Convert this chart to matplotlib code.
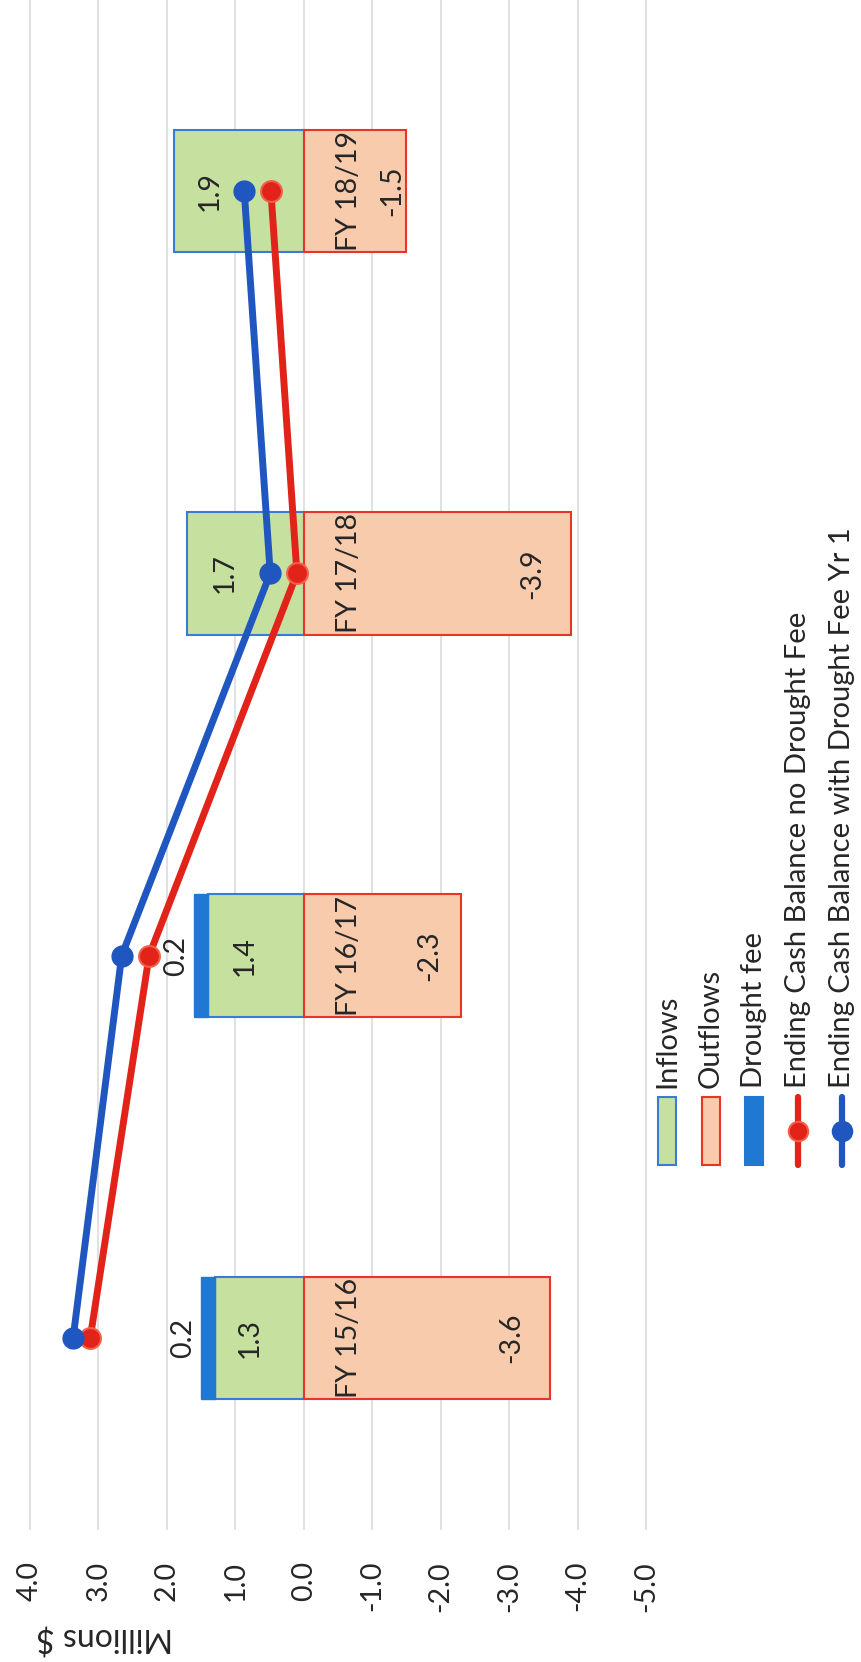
import matplotlib
matplotlib.use("Agg")
import matplotlib.pyplot as plt
from matplotlib.patches import Rectangle
from matplotlib.lines import Line2D

plt.rcParams['font.family'] = ['Lato', 'DejaVu Sans']

# ---- data ----
categories = ["FY 15/16", "FY 16/17", "FY 17/18", "FY 18/19"]
inflows = [1.3, 1.4, 1.7, 1.9]
drought_fee = [0.2, 0.2, 0.0, 0.0]
outflows = [-3.6, -2.3, -3.9, -1.5]
cash_no_fee = [3.12, 2.26, 0.10, 0.48]
cash_with_fee = [3.37, 2.66, 0.49, 0.87]
value_ticks = [4, 3, 2, 1, 0, -1, -2, -3, -4, -5]
legend_labels = ["Inflows", "Outflows", "Drought fee",
                 "Ending Cash Balance no Drought Fee",
                 "Ending Cash Balance with Drought Fee Yr 1"]

# ---- layout (label placements along the value axis) ----
inflow_label_x = [0.79, 0.87, 1.15, 1.37]
outflow_label_x = [-3.03, -1.83, -3.34, -1.29]
fy_label_x = -0.66

# ---- colours ----
GREEN = "#C6E0A0"
GREEN_EDGE = "#3A7BD5"
PEACH = "#F8CBAD"
PEACH_EDGE = "#E8352A"
FEE_BLUE = "#1F78D2"
LINE_RED = "#E2231A"
LINE_BLUE = "#1F56C0"
GRID = "#DEDEDE"
TXT = "#262626"
FS = 20.5

W_PX, H_PX = 861, 1662
fig = plt.figure(figsize=(W_PX / 100, H_PX / 100), dpi=100)

left_px, right_px, top_px, bottom_px = 30, 646, 0, 1529
ax = fig.add_axes([left_px / W_PX, 1 - bottom_px / H_PX,
                   (right_px - left_px) / W_PX, (bottom_px - top_px) / H_PX])
ax.set_xlim(4, -5)
ax.set_ylim(-0.5, 3.5)
for s in ax.spines.values():
    s.set_visible(False)

ax.set_xticks(value_ticks)
ax.set_xticklabels([f"{v:.1f}" for v in value_ticks], rotation=90,
                   va="top", ha="center", fontsize=FS, color=TXT)
ax.tick_params(axis="x", length=0, pad=23)
ax.set_yticks([])
for v in value_ticks:
    ax.axvline(v, color=GRID, lw=1.3, zorder=0, clip_on=False)

pos = list(range(len(categories)))
bh = 0.32
ax.barh(pos, inflows, height=bh, color=GREEN, edgecolor=GREEN_EDGE,
        linewidth=1.5, zorder=2)
fee_pos = [p for p, f in zip(pos, drought_fee) if f > 0]
fee_val = [f for f in drought_fee if f > 0]
fee_left = [i for i, f in zip(inflows, drought_fee) if f > 0]
ax.barh(fee_pos, fee_val, left=fee_left, height=bh, color=FEE_BLUE,
        edgecolor=FEE_BLUE, linewidth=1.0, zorder=3)
ax.barh(pos, outflows, height=bh, color=PEACH, edgecolor=PEACH_EDGE,
        linewidth=1.5, zorder=2)

ax.plot(cash_no_fee, pos, color=LINE_RED, lw=5.0, marker="o", ms=15,
        mfc=LINE_RED, mec="#F2604A", mew=1.5, zorder=6, solid_capstyle="round")
ax.plot(cash_with_fee, pos, color=LINE_BLUE, lw=5.0, marker="o", ms=15,
        mfc=LINE_BLUE, mec=LINE_BLUE, zorder=6, solid_capstyle="round")

for p, v, lx in zip(pos, inflows, inflow_label_x):
    ax.text(lx, p, f"{v:.1f}", rotation=90, ha="center", va="center",
            fontsize=FS, color=TXT, zorder=7)
for p, v, lx in zip(pos, outflows, outflow_label_x):
    ax.text(lx, p, f"{v:.1f}", rotation=90, ha="center", va="center",
            fontsize=FS, color=TXT, zorder=7)
for p, i, f in zip(pos, inflows, drought_fee):
    if f > 0:
        ax.annotate(f"{f:.1f}", xy=(i + f, p), xytext=(-18, 0),
                    textcoords="offset pixels", rotation=90, ha="center",
                    va="center", fontsize=FS, color=TXT, zorder=7)
for p, c in zip(pos, categories):
    ax.text(fy_label_x, p, c, rotation=90, ha="center", va="center",
            fontsize=FS, color=TXT, zorder=7)

fig.text(105 / W_PX, 1 - 1637 / H_PX, "Millions $", rotation=180,
         ha="center", va="center", fontsize=23, color=TXT)

# ---- legend (rotated, drawn manually) ----
x0, dx = 667, 43.7
h_top, h_bot = 1097, 1165
text_base = 1088
styles = [("patch", GREEN, GREEN_EDGE), ("patch", PEACH, PEACH_EDGE),
          ("patch", FEE_BLUE, FEE_BLUE), ("line", LINE_RED, "#F2604A"),
          ("line", LINE_BLUE, LINE_BLUE)]
for k, (lab, st) in enumerate(zip(legend_labels, styles)):
    xc = x0 + k * dx
    kind, c1, c2 = st
    if kind == "patch":
        w = 18
        fig.add_artist(Rectangle(((xc - w / 2) / W_PX, 1 - h_bot / H_PX),
                                 w / W_PX, (h_bot - h_top) / H_PX,
                                 transform=fig.transFigure, facecolor=c1,
                                 edgecolor=c2, linewidth=1.5))
    else:
        fig.add_artist(Line2D([xc / W_PX, xc / W_PX],
                              [1 - h_bot / H_PX, 1 - h_top / H_PX],
                              transform=fig.transFigure, color=c1, lw=4.5,
                              solid_capstyle="round"))
        fig.add_artist(Line2D([xc / W_PX], [1 - (h_top + h_bot) / 2 / H_PX],
                              transform=fig.transFigure, color=c1, marker="o",
                              ms=14, mfc=c1, mec=c2, mew=1.5, lw=0))
    fig.text(xc / W_PX, 1 - text_base / H_PX, lab, rotation=90, ha="center",
             va="bottom", fontsize=21, color=TXT)

fig.savefig("out.png", dpi=100, facecolor="white")
